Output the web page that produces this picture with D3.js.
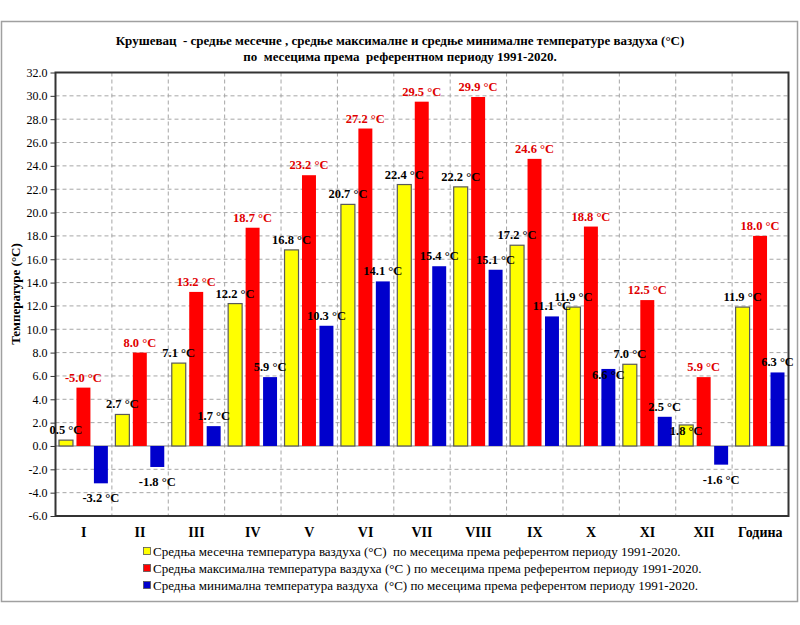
<!DOCTYPE html>
<html>
<head>
<meta charset="UTF-8">
<script src="https://cdn.jsdelivr.net/npm/d3@7"></script>
<style>
	body { margin: 0; background: #fff; }
	svg text { font-family: "Liberation Serif", "DejaVu Serif", serif; white-space: pre; }
	.grid line { stroke: #a6a6a6; stroke-dasharray: 4 3; }
	.tick text { font-size: 12px; fill: #000; }
	.lbl { font-size: 12.5px; font-weight: bold; }
</style>
</head>
<body>
<script>
	// categories (months + year)
	const months = ['I', 'II', 'III', 'IV', 'V', 'VI', 'VII', 'VIII', 'IX', 'X', 'XI', 'XII', 'Година'];

	// series values, °C
	const meanTemp = [0.5, 2.7, 7.1, 12.2, 16.8, 20.7, 22.4, 22.2, 17.2, 11.9, 7.0, 1.8, 11.9];
	const maxTemp  = [5.0, 8.0, 13.2, 18.7, 23.2, 27.2, 29.5, 29.9, 24.6, 18.8, 12.5, 5.9, 18.0];
	const minTemp  = [-3.2, -1.8, 1.7, 5.9, 10.3, 14.1, 15.4, 15.1, 11.1, 6.6, 2.5, -1.6, 6.3];

	// y ticks
	const yTicks = [-6, -4, -2, 0, 2, 4, 6, 8, 10, 12, 14, 16, 18, 20, 22, 24, 26, 28, 30, 32];

	const titleLines = [
		'Крушевац  - средње месечне , средње максималне и средње минималне температуре ваздуха (°C)',
		'по  месецима према  референтном периоду 1991-2020.'
	];
	const legendLabels = [
		'Средња месечна температура ваздуха (°C)  по месецима према референтом периоду 1991-2020.',
		'Средња максимална температура ваздуха (°C ) по месецима према референтом периоду 1991-2020.',
		'Средња минимална температура ваздуха  (°C) по месецима према референтом периоду 1991-2020.'
	];

	const series = [
		{key: 'mean', values: meanTemp, fill: '#ffff00', stroke: '#595959', text: '#000'},
		{key: 'max', values: maxTemp, fill: '#ff0000', stroke: 'none', text: '#e00000'},
		{key: 'min', values: minTemp, fill: '#0000cc', stroke: 'none', text: '#000'}
	];

	const width = 800, height = 625;
	const plot = {left: 55.5, right: 788.5, top: 72.5, bottom: 516};

	const svg = d3.select('body').append('svg')
		.attr('width', width)
		.attr('height', height);

	// outer frame
	svg.append('rect')
		.attr('x', 1.5).attr('y', 21.5)
		.attr('width', 796).attr('height', 580)
		.attr('fill', '#fff').attr('stroke', '#a0a0a0').attr('stroke-width', 1.5);

	// title
	svg.append('g').selectAll('text')
		.data(titleLines)
		.enter().append('text')
			.attr('x', 400)
			.attr('y', (d, i) => 45 + i * 16)
			.attr('text-anchor', 'middle')
			.style('font-size', '13px')
			.style('font-weight', 'bold')
			.text(d => d);

	const x = d3.scaleBand().domain(months).range([plot.left, plot.right]);
	const x1 = d3.scaleBand().domain(series.map(s => s.key))
		.range([3.5, x.bandwidth() - 4]).paddingInner(0.2);
	const y = d3.scaleLinear().domain([-6, 32]).range([plot.bottom, plot.top]);

	// grid
	const grid = svg.append('g').attr('class', 'grid');
	grid.selectAll('.h')
		.data(yTicks.filter(t => t !== 0 && t !== 32 && t !== -6))
		.enter().append('line')
			.attr('x1', plot.left).attr('x2', plot.right)
			.attr('y1', d => y(d)).attr('y2', d => y(d));
	grid.selectAll('.v')
		.data(months.slice(1))
		.enter().append('line')
			.attr('x1', d => x(d)).attr('x2', d => x(d))
			.attr('y1', plot.top).attr('y2', plot.bottom);

	// zero line
	svg.append('line')
		.attr('x1', plot.left).attr('x2', plot.right)
		.attr('y1', y(0)).attr('y2', y(0))
		.attr('stroke', '#808080').attr('stroke-width', 1);

	// bars
	series.forEach(s => {
		svg.append('g').selectAll('rect')
			.data(s.values)
			.enter().append('rect')
				.attr('x', (d, i) => x(months[i]) + x1(s.key))
				.attr('width', x1.bandwidth())
				.attr('y', d => y(Math.max(0, d)))
				.attr('height', d => Math.abs(y(d) - y(0)))
				.attr('fill', s.fill)
				.attr('stroke', s.stroke)
				.attr('stroke-width', 1.2);
	});

	// plot frame
	svg.append('rect')
		.attr('x', plot.left).attr('y', plot.top)
		.attr('width', plot.right - plot.left).attr('height', plot.bottom - plot.top)
		.attr('fill', 'none').attr('stroke', '#333').attr('stroke-width', 2);

	// y axis
	const yAxis = svg.append('g')
		.attr('transform', `translate(${plot.left},0)`)
		.call(d3.axisLeft(y).tickValues(yTicks).tickSize(5).tickPadding(3))
		.attr('font-family', null)
		.attr('font-size', null);
	yAxis.select('.domain').remove();
	yAxis.selectAll('.tick line').attr('stroke', '#333');
	yAxis.selectAll('.tick text').text(d => d3.format('.1f')(d).replace('−', '-'));

	svg.append('text')
		.attr('transform', 'translate(20,294) rotate(-90)')
		.attr('text-anchor', 'middle')
		.style('font-size', '13px')
		.style('font-weight', 'bold')
		.text('Температуре (°C)');

	// x labels
	svg.append('g').selectAll('text')
		.data(months)
		.enter().append('text')
			.attr('x', d => x(d) + x.bandwidth() / 2)
			.attr('y', 537)
			.attr('text-anchor', 'middle')
			.style('font-size', '14px')
			.style('font-weight', 'bold')
			.text(d => d);

	// data labels; a few sit lower, as in the original
	const lowered = {'min-9': 16, 'mean-11': 16};
	series.forEach(s => {
		svg.append('g').selectAll('text')
			.data(s.values)
			.enter().append('text')
				.attr('class', 'lbl')
				.attr('x', (d, i) => x(months[i]) + x1(s.key) + x1.bandwidth() / 2)
				.attr('y', (d, i) => (d >= 0 ? y(d) - 6 : y(d) + 19) + (lowered[s.key + '-' + i] || 0))
				.attr('text-anchor', 'middle')
				.attr('fill', s.text)
				.text((d, i) => (s.key === 'max' && i === 0 ? '-' : '') + d.toFixed(1) + ' °C');
	});

	// legend
	const legend = svg.append('g').selectAll('g')
		.data(series)
		.enter().append('g')
			.attr('transform', (d, i) => `translate(143,${552 + i * 17})`);
	legend.append('rect')
		.attr('x', 0.5).attr('y', -4.5)
		.attr('width', 7).attr('height', 7)
		.attr('fill', d => d.fill)
		.attr('stroke', '#555').attr('stroke-width', 0.8);
	legend.append('text')
		.attr('x', 10).attr('y', 4)
		.style('font-size', '13px')
		.text((d, i) => legendLabels[i]);
</script>
</body>
</html>
